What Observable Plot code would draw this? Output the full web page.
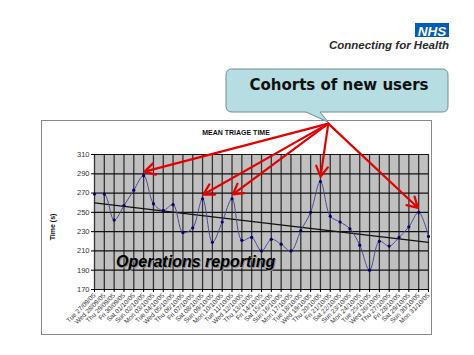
<!DOCTYPE html>
<html>
<head>
<meta charset="utf-8">
<script src="https://cdn.jsdelivr.net/npm/d3@7"></script>
<script src="https://cdn.jsdelivr.net/npm/@observablehq/plot@0.6"></script>
<style>
  html, body { margin: 0; padding: 0; background: #fff; }
  #page { position: relative; width: 474px; height: 355px; overflow: hidden; background: #fff; font-family: "Liberation Sans", Arial, sans-serif; }
  #frame { position: absolute; left: 41px; top: 120px; width: 389px; height: 213px; border: 1.5px solid #8a8a8a; }
  #page svg { position: absolute; left: 0; top: 0; }
</style>
</head>
<body>
<div id="page"><div id="frame"></div></div>
<script>
// ---- data ----
const days = [
  "Tue 27/09/05","Wed 28/09/05","Thu 29/09/05","Fri 30/09/05","Sat 01/10/05","Sun 02/10/05",
  "Mon 03/10/05","Tue 04/10/05","Wed 05/10/05","Thu 06/10/05","Fri 07/10/05","Sat 08/10/05",
  "Sun 09/10/05","Mon 10/10/05","Tue 11/10/05","Wed 12/10/05","Thu 13/10/05","Fri 14/10/05",
  "Sat 15/10/05","Sun 16/10/05","Mon 17/10/05","Tue 18/10/05","Wed 19/10/05","Thu 20/10/05",
  "Fri 21/10/05","Sat 22/10/05","Sun 23/10/05","Mon 24/10/05","Tue 25/10/05","Wed 26/10/05",
  "Thu 27/10/05","Fri 28/10/05","Sat 29/10/05","Sun 30/10/05","Mon 31/10/05"
];
const meanTriageTime = [
  269, 269, 242, 257, 273, 288, 259, 252, 258, 229, 234, 264,
  219, 240, 264, 221, 224, 210, 222, 217, 210, 231, 250, 282,
  246, 240, 233, 216, 190, 220, 215, 224, 235, 250, 225
];
const yTicks = [170, 190, 210, 230, 250, 270, 290, 310];
const cohortDays = ["Sun 02/10/05", "Sat 08/10/05", "Tue 11/10/05", "Thu 20/10/05", "Sun 30/10/05"];
// callout tip (annotation anchor) in chart units: day index, seconds
const calloutTip = {x: 23.8, y: 342};
const chartTitle = "MEAN TRIAGE TIME";
const yLabel = "Time (s)";
const annotationText = "Operations reporting";
const annotationAt = {x: 2.2, y: 193};
const calloutText = "Cohorts of new users";

// ---- derived tables ----
const data = days.map((d, i) => ({i, day: d, t: meanTriageTime[i]}));
const arrows = cohortDays.map(d => {
  const i = days.indexOf(d);
  return {x1: calloutTip.x, y1: calloutTip.y, x2: i, y2: meanTriageTime[i] + 4};
});
const idx = d3.range(days.length);

const chart = Plot.plot({
  width: 474, height: 355,
  marginLeft: 94, marginRight: 46, marginTop: 154, marginBottom: 66,
  x: {domain: [0, days.length - 1]},
  y: {domain: [170, 310]},
  style: {fontFamily: "Liberation Sans, Arial, sans-serif", background: "transparent", overflow: "visible"},
  marks: [
    Plot.frame({fill: "#c0c0c0", stroke: null}),
    Plot.ruleX(idx, {x: d => d, stroke: "#333", strokeWidth: 1.3}),
    Plot.ruleY(yTicks, {y: d => d, stroke: "#111", strokeWidth: 1.2}),
    Plot.axisX(idx, {tickFormat: i => days[i], tickRotate: -45, fontSize: 6.5, tickSize: 3, tickPadding: 2, label: null, fill: "#333"}),
    Plot.axisY(yTicks, {fontSize: 7.5, tickSize: 3, tickPadding: 2, label: null, fill: "#333"}),
    Plot.linearRegressionY(data, {x: "i", y: "t", ci: 0, stroke: "#111", strokeWidth: 1.3}),
    Plot.line(data, {x: "i", y: "t", curve: "catmull-rom", stroke: "#4b4b94", strokeWidth: 1}),
    Plot.dot(data, {x: "i", y: "t", r: 1.6, fill: "#000070", stroke: null}),
    Plot.text([annotationText], {x: annotationAt.x, y: annotationAt.y, text: d => d, textAnchor: "start", lineAnchor: "bottom",
      fontSize: 16, fontWeight: "bold", fontStyle: "italic", fill: "#888", dx: 1, dy: 1}),
    Plot.text([annotationText], {x: annotationAt.x, y: annotationAt.y, text: d => d, textAnchor: "start", lineAnchor: "bottom",
      fontSize: 16, fontWeight: "bold", fontStyle: "italic", fill: "#000"}),
    Plot.arrow(arrows, {x1: "x1", y1: "y1", x2: "x2", y2: "y2", stroke: "#e60000", strokeWidth: 2.2, headLength: 8, insetEnd: 1})
  ]
});
document.getElementById("page").appendChild(chart);

// ---- slide decorations ----
const ns = "http://www.w3.org/2000/svg";
const ov = d3.select("#page").append("svg").attr("xmlns", ns).attr("width", 474).attr("height", 355)
  .style("font-family", "Liberation Sans, Arial, sans-serif");

ov.append("text").attr("x", 236).attr("y", 135).attr("text-anchor", "middle")
  .attr("font-size", 7).attr("font-weight", "bold").attr("fill", "#111").text(chartTitle);
ov.append("text").attr("transform", "translate(55,227) rotate(-90)").attr("text-anchor", "middle")
  .attr("font-size", 7).attr("font-weight", "bold").attr("fill", "#111").text(yLabel);

// callout
const cg = ov.append("g");
cg.append("path")
  .attr("d", "M232,69 H442 Q448,69 448,75 V106 Q448,112 442,112 H320 L328,122 L306,112 H232 Q226,112 226,106 V75 Q226,69 232,69 Z")
  .attr("fill", "#b5dde2").attr("stroke", "#6e8e95").attr("stroke-width", 1);
cg.append("text").attr("x", 339).attr("y", 90).attr("text-anchor", "middle")
  .attr("font-family", "DejaVu Sans, Verdana, sans-serif").attr("font-weight", "bold").attr("font-size", 15)
  .attr("fill", "#111").text(calloutText);

// NHS logo
ov.append("rect").attr("x", 415).attr("y", 23).attr("width", 34).attr("height", 14).attr("fill", "#005eb8");
ov.append("text").attr("x", 432).attr("y", 35.5).attr("text-anchor", "middle").attr("fill", "#fff")
  .attr("font-size", 13.5).attr("font-weight", "bold").attr("font-style", "italic").text("NHS");
ov.append("text").attr("x", 449).attr("y", 49).attr("text-anchor", "end").attr("fill", "#2b2b2b")
  .attr("font-size", 11.5).attr("font-weight", "600").attr("font-style", "italic").text("Connecting for Health");
</script>
</body>
</html>
